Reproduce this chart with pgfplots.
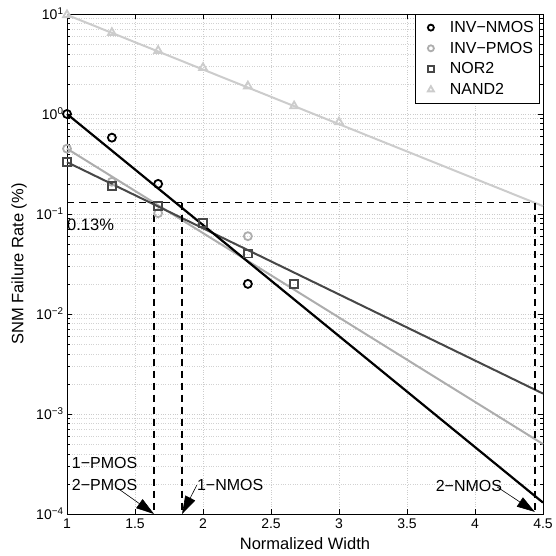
\documentclass[border=0pt]{standalone}
\usepackage{fontspec}
\setmainfont{Liberation Sans}
\usepackage{pgfplots}
\pgfplotsset{compat=1.18}
\usetikzlibrary{arrows.meta}
\definecolor{nmos}{gray}{0.0}
\definecolor{pmos}{gray}{0.68}
\definecolor{nor}{gray}{0.28}
\definecolor{nand}{gray}{0.80}
\pgfplotsset{smallmark legend/.style={legend image code/.code={\path[draw=none] (0pt,0pt) -- (30pt,0pt); \draw[##1, mark size=#1] plot coordinates {(13pt,0pt)};}}}
\begin{document}
\begin{tikzpicture}[x=1pt,y=1pt]
\useasboundingbox (0,0) rectangle (556,556);
\begin{axis}[
  at={(67pt,42pt)}, anchor=south west,
  width=476pt, height=500pt, scale only axis,
  xmin=1, xmax=4.5, ymode=log, ymin=1e-4, ymax=10,
  xtick={1,1.5,2,2.5,3,3.5,4,4.5},
  xticklabels={1,1.5,2,2.5,3,3.5,4,4.5},
  ytick={1e-4,1e-3,1e-2,1e-1,1,10},
  yticklabels={10\textsuperscript{−4},10\textsuperscript{−3},10\textsuperscript{−2},10\textsuperscript{−1},10\textsuperscript{0},10\textsuperscript{1}},
  minor ytick={2e-4,3e-4,4e-4,5e-4,6e-4,7e-4,8e-4,9e-4,2e-3,3e-3,4e-3,5e-3,6e-3,7e-3,8e-3,9e-3,2e-2,3e-2,4e-2,5e-2,6e-2,7e-2,8e-2,9e-2,0.2,0.3,0.4,0.5,0.6,0.7,0.8,0.9,2,3,4,5,6,7,8,9},
  tick align=inside,
  major tick length=5pt, minor tick length=3pt,
  xmajorgrids, ymajorgrids, yminorgrids,
  major grid style={dotted, gray!40},
  minor grid style={dotted, gray!35},
  axis line style={black, line width=0.6pt},
  tick style={black, line width=0.5pt},
  /pgf/number format/assume math mode=true,
  tick label style={font=\fontsize{14}{14}\selectfont},
  xticklabel style={yshift=-1pt},
  xlabel={Normalized Width},
  ylabel={SNM Failure Rate (\%)},
  label style={font=\fontsize{16.5}{16.5}\selectfont},
  xlabel style={at={(axis description cs:0.5,0)}, anchor=center, yshift=-30pt},
  ylabel style={at={(axis description cs:-0.1008,0.5)}, anchor=center},
  legend style={at={(rel axis cs:0.992,1)}, anchor=north east, draw=black, fill=white,
    font=\fontsize{16}{16}\selectfont, row sep=4pt, inner xsep=3pt, inner ysep=5pt, line width=0.6pt,
    cells={anchor=west}},
  legend cell align=left,
  clip=false,
]
% data points
\addplot[only marks, mark=o, mark size=4pt, color=nmos, line width=1.8pt, smallmark legend=3pt] coordinates {
  (1,1.0) (1.33,0.58) (1.67,0.2) (2.33,0.02)};
\addlegendentry{INV−NMOS}
\addplot[only marks, mark=o, mark size=4pt, color=pmos, line width=1.8pt, smallmark legend=3pt] coordinates {
  (1,0.45) (1.33,0.21) (1.67,0.102) (2.33,0.06)};
\addlegendentry{INV−PMOS}
\addplot[only marks, mark=square, mark size=3.8pt, color=nor, line width=1.8pt, smallmark legend=3pt] coordinates {
  (1,0.33) (1.33,0.19) (1.67,0.12) (2,0.081) (2.33,0.04) (2.67,0.02)};
\addlegendentry{NOR2}
\addplot[only marks, mark=triangle, mark size=4.5pt, color=nand, line width=1.8pt, smallmark legend=3.5pt] coordinates {
  (1,9.8) (1.33,6.5) (1.67,4.3) (2,2.9) (2.33,1.9) (2.67,1.2) (3,0.83)};
\addlegendentry{NAND2}
% fitted lines
\addplot[nand, line width=2pt, forget plot] coordinates {(1,9.8) (4.5,0.12)};
\addplot[pmos, line width=2pt, forget plot] coordinates {(1,0.45) (4.5,5.0e-4)};
\addplot[nor, line width=2pt, forget plot] coordinates {(1,0.33) (4.5,1.6e-3)};
\addplot[nmos, line width=2.2pt, forget plot] coordinates {(1,1.0) (4.5,1.3e-4)};
% dashed guide lines
\addplot[black, line width=1.6pt, dash pattern=on 7pt off 5pt, forget plot] coordinates {(1,0.13) (4.44,0.13) (4.44,1e-4)};
\addplot[black, line width=1.6pt, dash pattern=on 7pt off 5pt, forget plot] coordinates {(1.64,0.13) (1.64,1e-4)};
\addplot[black, line width=1.6pt, dash pattern=on 7pt off 5pt, forget plot] coordinates {(1.845,0.13) (1.845,1e-4)};
% annotations
\node[anchor=west, inner sep=0pt, font=\fontsize{16.5}{16.5}\selectfont] at (axis cs:1.0,0.078) {0.13\%};
\node[anchor=west, inner sep=0pt, font=\fontsize{16}{16}\selectfont] at (axis cs:1.035,3.2e-4) {1−PMOS};
\node[anchor=west, inner sep=0pt, font=\fontsize{16}{16}\selectfont] at (axis cs:1.035,1.95e-4) {2−PMOS};
\node[anchor=west, inner sep=0pt, font=\fontsize{16}{16}\selectfont] at (axis cs:1.955,1.95e-4) {1−NMOS};
\node[anchor=west, inner sep=0pt, font=\fontsize{16}{16}\selectfont] at (axis cs:3.71,1.9e-4) {2−NMOS};
\draw[-{Triangle[length=18pt,width=11pt]}, line width=0.6pt] (axis cs:1.375,1.8e-4) -- (axis cs:1.64,1e-4);
\draw[-{Triangle[length=18pt,width=11pt]}, line width=0.6pt] (axis cs:1.955,1.95e-4) -- (axis cs:1.846,1e-4);
\draw[-{Triangle[length=18pt,width=11pt]}, line width=0.6pt] (axis cs:4.164,1.86e-4) -- (axis cs:4.44,1.05e-4);
\end{axis}
\end{tikzpicture}
\end{document}
